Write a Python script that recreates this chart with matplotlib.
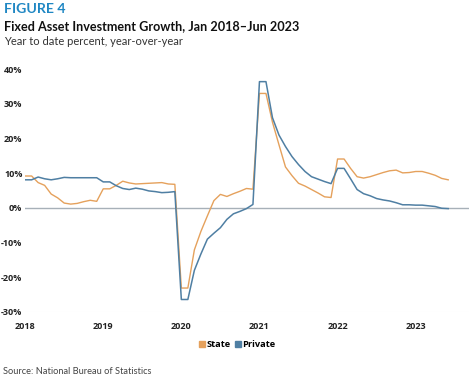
import numpy as np
import matplotlib.pyplot as plt
from matplotlib.lines import Line2D

# ----------------------------------------------------------
# DATA (year-to-date % y/y, monthly Jan 2018 - Jun 2023)
# ----------------------------------------------------------
years = [2018, 2019, 2020, 2021, 2022, 2023]

state = [9.2, 9.2, 7.3, 6.5, 4.0, 2.9, 1.4, 1.1, 1.3, 1.8, 2.2, 1.9,
         5.5, 5.5, 6.5, 7.7, 7.2, 6.9, 7.0, 7.1, 7.2, 7.3, 6.9, 6.8,
         -23.1, -23.1, -12.1, -6.8, -2.3, 2.1, 3.9, 3.3, 4.1, 4.8, 5.6, 5.4,
         33.0, 33.0, 24.7, 18.2, 11.8, 9.3, 7.1, 6.3, 5.3, 4.3, 3.2, 3.0,
         14.1, 14.1, 11.4, 9.0, 8.6, 9.0, 9.6, 10.2, 10.7, 10.9, 10.1, 10.2,
         10.5, 10.5, 10.0, 9.4, 8.5, 8.1]

private = [8.1, 8.1, 8.9, 8.4, 8.1, 8.4, 8.8, 8.7, 8.7, 8.7, 8.7, 8.7,
           7.5, 7.5, 6.4, 5.6, 5.3, 5.7, 5.4, 4.9, 4.7, 4.4, 4.5, 4.7,
           -26.4, -26.4, -18.0, -13.3, -9.0, -7.3, -5.7, -3.3, -1.7, -1.0, -0.2, 1.0,
           36.4, 36.4, 26.0, 21.0, 17.7, 14.8, 12.5, 10.5, 9.0, 8.3, 7.6, 7.0,
           11.4, 11.4, 8.4, 5.3, 4.1, 3.5, 2.7, 2.3, 2.0, 1.5, 0.9, 0.9,
           0.8, 0.8, 0.6, 0.4, -0.1, -0.2]

yticks = [-30, -20, -10, 0, 10, 20, 30, 40]

x = 2018 + np.arange(len(state)) / 12.0

STATE_C = "#E5A15C"
PRIV_C = "#4F7FA3"

# ----------------------------------------------------------
# FIGURE
# ----------------------------------------------------------
fig = plt.figure(figsize=(4.74, 3.80), dpi=100)
ax = fig.add_axes([0.053, 0.179, 0.936, 0.639])

ax.axhline(0, color="#A7B0B8", lw=1.0, zorder=1)
ax.axhline(-30, color="#EDEDED", lw=0.8, zorder=1)
ax.plot(x, state, color=STATE_C, lw=1.0, zorder=2)
ax.plot(x, private, color=PRIV_C, lw=1.1, zorder=3)

ax.set_xlim(2018, 2023.68)
ax.set_ylim(-30, 40)
ax.set_xticks(years)
ax.set_xticklabels([str(y) for y in years])
ax.set_yticks(yticks)
ax.set_yticklabels([f"{v}%" for v in yticks])
ax.tick_params(length=0, labelsize=6.5, colors="#222222")
ax.tick_params(axis="y", pad=2)
ax.tick_params(axis="x", pad=7)
for lab in ax.get_xticklabels() + ax.get_yticklabels():
    lab.set_fontweight("bold")
    lab.set_family("Open Sans")
for s in ax.spines.values():
    s.set_visible(False)

# ----------------------------------------------------------
# TITLES, LEGEND, SOURCE
# ----------------------------------------------------------
fig.text(0.008, 0.993, "FIGURE 4", color="#1F87C3", fontsize=10.2,
         fontweight="bold", family="Lato", va="top")
fig.text(0.008, 0.948, "Fixed Asset Investment Growth, Jan 2018\u2013Jun 2023",
         color="#111111", fontsize=9.1, fontweight="bold", family="Lato", va="top")
fig.text(0.008, 0.905, "Year to date percent, year-over-year",
         color="#333333", fontsize=8.0, family="Lato", va="top")

handles = [Line2D([], [], marker="s", ls="", color=STATE_C, markersize=5),
           Line2D([], [], marker="s", ls="", color=PRIV_C, markersize=5)]
fig.legend(handles, ["State", "Private"], loc="center", bbox_to_anchor=(0.5, 0.094),
           ncol=2, frameon=False, handletextpad=0.1, columnspacing=0.3,
           handlelength=0.8, prop={"family": "Open Sans", "weight": "bold", "size": 6.7})

fig.text(0.006, 0.022, "Source: National Bureau of Statistics", color="#444444",
         fontsize=6.7, family="Lato", va="center")

fig.savefig("out.png", dpi=100)
